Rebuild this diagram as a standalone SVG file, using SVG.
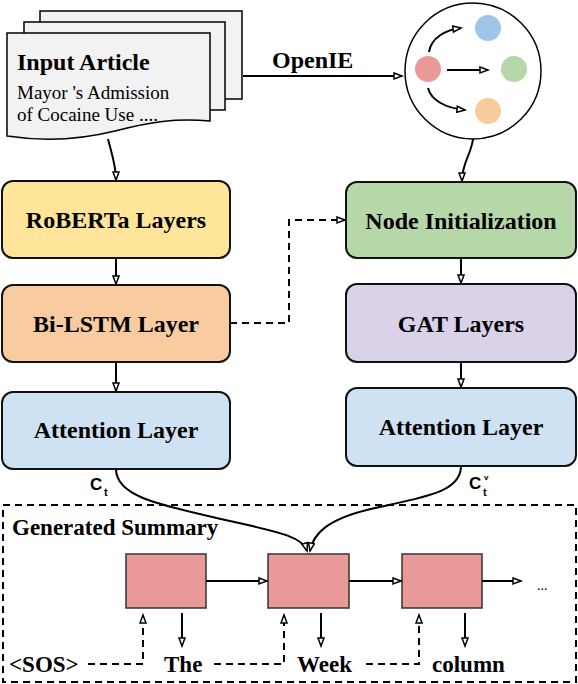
<svg xmlns="http://www.w3.org/2000/svg" width="578" height="684" viewBox="0 0 578 684">
<defs>
<style>
.box{stroke:#111;stroke-width:2}
.t{font-family:"Liberation Serif","Times New Roman",serif;font-weight:bold;font-size:24px;fill:#000;text-anchor:middle}
.tl{font-family:"Liberation Serif","Times New Roman",serif;font-weight:bold;font-size:23px;fill:#000}
.tr{font-family:"Liberation Serif","Times New Roman",serif;font-size:19px;fill:#000}
.c{stroke:#000;stroke-width:2;fill:none}
.d{stroke:#000;stroke-width:2;fill:none;stroke-dasharray:7,5}
.doc{fill:#F2F2F2;stroke:#000;stroke-width:1.5}
.s{font-family:"Liberation Sans",Arial,sans-serif;font-weight:bold;fill:#000}
</style>
<marker id="a" markerUnits="userSpaceOnUse" markerWidth="12" markerHeight="10" refX="9" refY="4" orient="auto">
<path d="M1,1 L9,4 L1,7 Z" fill="#fff" stroke="#000" stroke-width="1.5"/>
</marker>
</defs>

<g id="input-article">
<rect class="doc" x="40" y="11" width="202" height="88"/>
<rect class="doc" x="24" y="22" width="201" height="88"/>
<path class="doc" d="M7,33 H210 V121 C175,118 150,122 115,131 C75,141 40,141 7,136 Z"/>
<text class="tl" x="17" y="70" style="font-size:24px">Input Article</text>
<text class="tr" x="17" y="99">Mayor 's Admission</text>
<text class="tr" x="17" y="121">of Cocaine Use ....</text>
</g>

<g id="graph">
<circle cx="473" cy="71" r="68" fill="#fff" stroke="#000" stroke-width="1.5"/>
<circle cx="428" cy="69" r="13" fill="#EA9999"/>
<circle cx="488" cy="28" r="13" fill="#9FC5E8"/>
<circle cx="514" cy="69" r="13" fill="#B6D7A8"/>
<circle cx="488" cy="111" r="13" fill="#F9CB9C"/>
<path class="c" d="M429,52 C431,38 445,30 461,28" marker-end="url(#a)"/>
<path class="c" d="M447,70 L488,70" marker-end="url(#a)"/>
<path class="c" d="M428,88 C431,100 445,108 465,110" marker-end="url(#a)"/>
</g>

<g id="roberta">
<rect class="box" x="2" y="181" width="228" height="77" rx="11" fill="#FFE599"/>
<text class="t" x="116" y="228">RoBERTa Layers</text>
</g>
<g id="bilstm">
<rect class="box" x="2" y="285" width="228" height="77" rx="11" fill="#F8CBA0"/>
<text class="t" x="116" y="332">Bi-LSTM Layer</text>
</g>
<g id="attention-left">
<rect class="box" x="2" y="392" width="228" height="77" rx="11" fill="#CFE2F3"/>
<text class="t" x="116" y="438">Attention Layer</text>
</g>
<g id="node-init">
<rect class="box" x="346" y="182" width="230" height="76" rx="11" fill="#B6D7A8"/>
<text class="t" x="461" y="229">Node Initialization</text>
</g>
<g id="gat">
<rect class="box" x="346" y="284" width="230" height="78" rx="11" fill="#D9D2E9"/>
<text class="t" x="461" y="332">GAT Layers</text>
</g>
<g id="attention-right">
<rect class="box" x="346" y="388" width="230" height="78" rx="11" fill="#CFE2F3"/>
<text class="t" x="461" y="435">Attention Layer</text>
</g>

<g id="summary">
<rect x="3" y="505" width="573" height="177" fill="none" stroke="#000" stroke-width="2" stroke-dasharray="7,5"/>
<text class="tl" x="12" y="535">Generated Summary</text>
<rect x="126" y="554" width="80" height="54" fill="#EA9999" stroke="#333" stroke-width="1.5"/>
<rect x="268" y="554" width="81" height="54" fill="#EA9999" stroke="#333" stroke-width="1.5"/>
<rect x="402" y="554" width="80" height="54" fill="#EA9999" stroke="#333" stroke-width="1.5"/>
<text class="tr" x="537" y="590" style="font-size:14px">...</text>
<text class="tl" x="9" y="672">&lt;SOS&gt;</text>
<text class="tl" x="164" y="672">The</text>
<text class="tl" x="297" y="672">Week</text>
<text class="tl" x="432" y="672">column</text>
</g>

<g id="connectors">
<path class="c" d="M108,139 C112,155 116,165 116,180" marker-end="url(#a)"/>
<path class="c" d="M243,76 L402,76" marker-end="url(#a)"/>
<text class="tl" x="272" y="68" style="font-size:24px">OpenIE</text>
<path class="c" d="M473,139 C471,155 462,163 462,181" marker-end="url(#a)"/>
<path class="c" d="M116,258 L116,284" marker-end="url(#a)"/>
<path class="c" d="M116,362 L116,391" marker-end="url(#a)"/>
<path class="c" d="M461,258 L461,283" marker-end="url(#a)"/>
<path class="c" d="M461,362 L461,387" marker-end="url(#a)"/>
<path class="d" d="M230,323 H289 V220 H345" marker-end="url(#a)"/>
<path class="c" d="M116,469 C116,497 160,505 230,521 C285,533 303,538 307,551" marker-end="url(#a)"/>
<path class="c" d="M461,466 C461,492 425,497 375,508 C325,519 313,535 310,551" marker-end="url(#a)"/>
<text class="s" x="90" y="490" style="font-size:17px">C</text>
<text class="s" x="104" y="496" style="font-size:11px">t</text>
<text class="s" x="469" y="489" style="font-size:17px">C</text>
<text class="s" x="484" y="480" style="font-size:8px">v</text>
<text class="s" x="483" y="496" style="font-size:11px">t</text>
<path class="c" d="M206,581 H267" marker-end="url(#a)"/>
<path class="c" d="M349,581 H401" marker-end="url(#a)"/>
<path class="c" d="M482,581 H521" marker-end="url(#a)"/>
<path class="c" d="M182,613 V646" marker-end="url(#a)"/>
<path class="c" d="M321,613 V646" marker-end="url(#a)"/>
<path class="c" d="M465,613 V646" marker-end="url(#a)"/>
<path class="d" d="M88,664 H143 V615" marker-end="url(#a)"/>
<path class="d" d="M214,664 H284 V615" marker-end="url(#a)"/>
<path class="d" d="M366,664 H419 V615" marker-end="url(#a)"/>
</g>
</svg>
